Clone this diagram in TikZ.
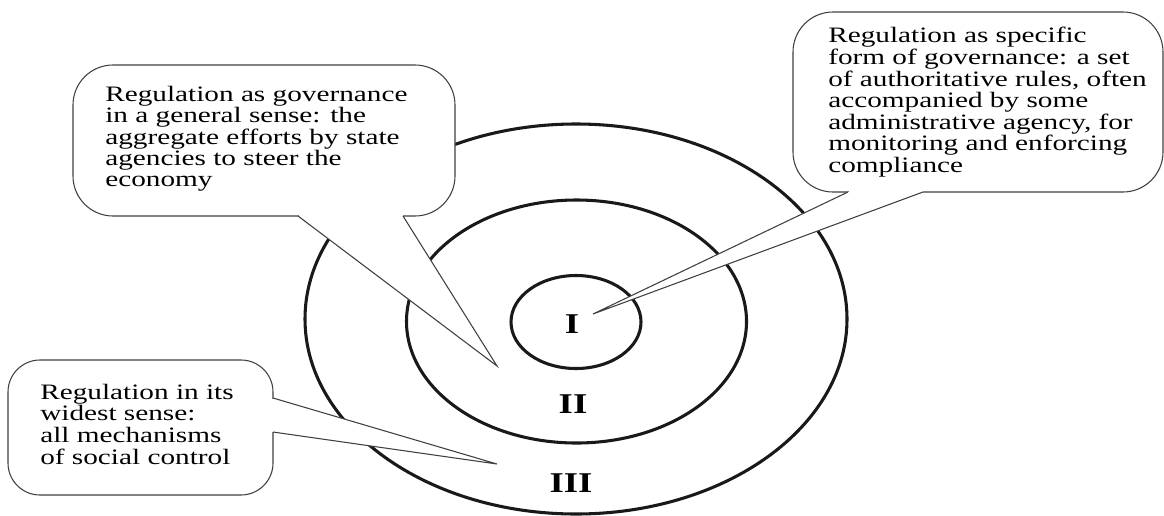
\documentclass[tikz,border=0pt]{standalone}
\usepackage{fontspec}
\setmainfont{Liberation Serif}
\usepackage{graphicx}
\usetikzlibrary{shapes.geometric}
\newcommand\stretchtext[1]{\scalebox{1.33}[1]{\begin{tabular}{@{}l@{}}#1\end{tabular}}}
\newcommand\stretchnum[1]{\scalebox{1.28}[1]{#1}}
\begin{document}
\begin{tikzpicture}[x=0.75pt,y=-0.75pt,
  ring/.style={ellipse, draw=black!90, line width=2.3pt, inner sep=0pt, outer sep=0pt},
  bubble/.style={rectangle, draw=black!75, line width=0.8pt, fill=white, rounded corners=#1, inner sep=0pt},
  bubble/.default=30pt,
  wedge/.style={draw=black!75, line width=0.8pt, line join=miter},
  txt/.style={anchor=north west, inner sep=0pt, font=\fontsize{16.5}{15.4}\selectfont},
  numeral/.style={inner sep=0pt, font=\fontsize{21.5}{24}\selectfont\bfseries}]
\useasboundingbox (0,0) rectangle (1164,515);
% rings
\node[ring, minimum width=406.5pt, minimum height=292.5pt] (outer) at (576,319) {};
\node[ring, minimum width=255pt, minimum height=182.25pt] (middle) at (576.5,321.5) {};
\node[ring, minimum width=97.5pt, minimum height=69.75pt] (inner) at (576,322) {};
% numerals
\node[numeral] (nI) at (572,324) {\stretchnum{I}};
\node[numeral] (nII) at (573,404) {\stretchnum{II}};
\node[numeral] (nIII) at (571,483) {\stretchnum{III}};
% tips
\coordinate (tipII) at (497,366);
\coordinate (tipIII) at (497,464);
\coordinate (tipI) at (593,314);
% boxes
\node[bubble, minimum width=286.5pt, minimum height=113.25pt] (boxII) at (264,140.5) {};
\node[bubble, minimum width=277.5pt, minimum height=135pt] (boxI) at (978,102) {};
\node[bubble=24pt, minimum width=198.75pt, minimum height=101.25pt] (boxIII) at (140.5,427.5) {};
% wedges
\coordinate (aII) at (298,216); \coordinate (bII) at (403,216);
\coordinate (aIII) at (273,398); \coordinate (bIII) at (273,432);
\coordinate (aI) at (848,192); \coordinate (bI) at (923,192);
\fill[white] (aII) -- (tipII) -- (bII) -- cycle;
\fill[white] (298.5,213) rectangle (402.5,217.5);
\draw[wedge] (aII) -- (tipII) -- (bII);
\fill[white] (aIII) -- (tipIII) -- (bIII) -- cycle;
\fill[white] (271,398.5) rectangle (275.5,431.5);
\draw[wedge] (aIII) -- (tipIII) -- (bIII);
\fill[white] (aI) -- (tipI) -- (bI) -- cycle;
\fill[white] (848.5,189.5) rectangle (922.5,194.5);
\draw[wedge] (aI) -- (tipI) -- (bI);
% texts
\node[txt] (tII) at (105,85.6) {\stretchtext{Regulation as governance\\ in a general sense: the\\ aggregate efforts by state\\ agencies to steer the\\ economy}};
\node[txt] (tI) at (828,27) {\stretchtext{Regulation as specific\\ form of governance: a set\\ of authoritative rules, often\\ accompanied by some\\ administrative agency, for\\ monitoring and enforcing\\ compliance}};
\node[txt] (tIII) at (40,384) {\stretchtext{Regulation in its\\ widest sense:\\ all mechanisms\\ of social control}};
\end{tikzpicture}
\end{document}
